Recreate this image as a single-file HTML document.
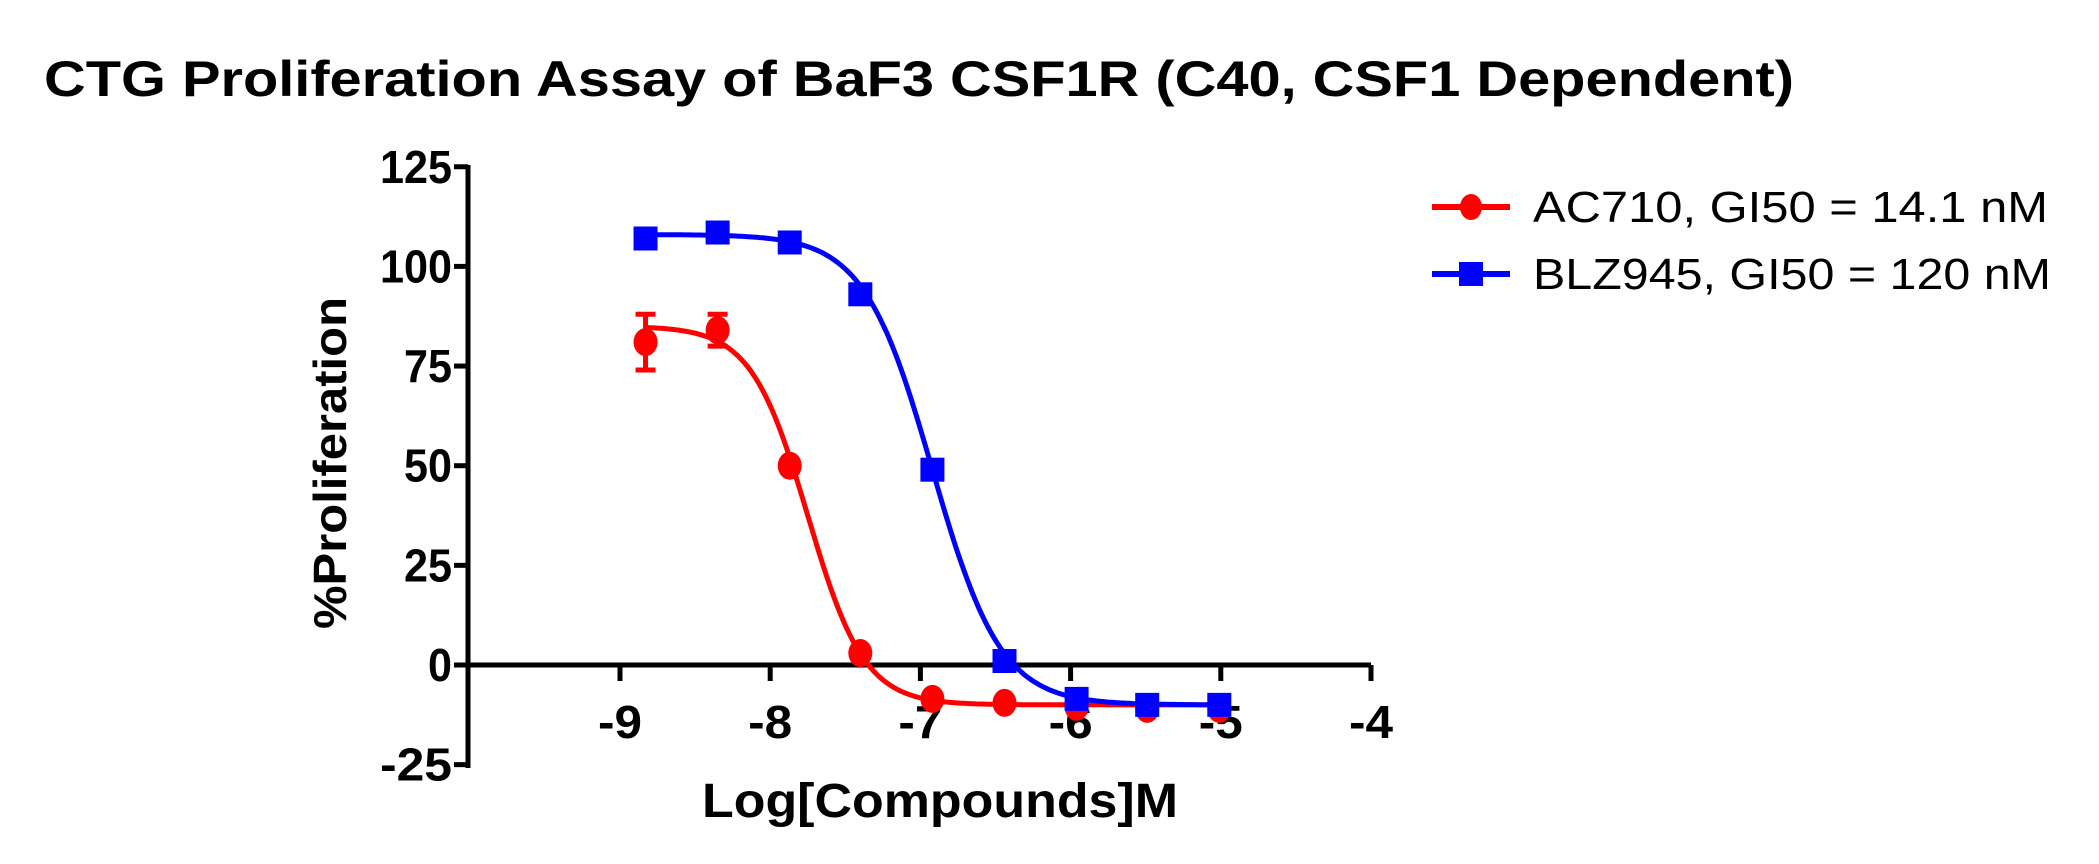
<!DOCTYPE html>
<html><head><meta charset="utf-8"><style>body{margin:0;background:#fff}svg{display:block}</style></head>
<body>
<svg id="s" width="2099" height="864" xmlns="http://www.w3.org/2000/svg" font-family="Liberation Sans, Arial, sans-serif">
<text x="44" y="96" font-size="50" font-weight="bold" textLength="1750" lengthAdjust="spacingAndGlyphs">CTG Proliferation Assay of BaF3 CSF1R (C40, CSF1 Dependent)</text>
<g stroke="#000" stroke-width="5" fill="none">
<line x1="468" y1="165" x2="468" y2="768"/>
<line x1="466" y1="665" x2="1371" y2="665"/>
</g>
<g id="ticks" stroke="#000" stroke-width="5"></g>
<g id="labels" font-size="46" font-weight="bold"></g>
<text x="940" y="817" font-size="48" font-weight="bold" text-anchor="middle" textLength="476" lengthAdjust="spacingAndGlyphs">Log[Compounds]M</text>
<text transform="translate(346,463) rotate(-90)" font-size="46" font-weight="bold" text-anchor="middle" textLength="332" lengthAdjust="spacingAndGlyphs">%Proliferation</text>
<g id="plot"></g>
<line x1="1432" y1="207" x2="1510" y2="207" stroke="#f00" stroke-width="6"/>
<ellipse cx="1471" cy="207" rx="11" ry="13" fill="#f00"/>
<line x1="1432" y1="274" x2="1510" y2="274" stroke="#00f" stroke-width="6"/>
<rect x="1459" y="262" width="24" height="24" fill="#00f"/>
<text x="1533" y="222" font-size="44" textLength="515" lengthAdjust="spacingAndGlyphs">AC710, GI50 = 14.1 nM</text>
<text x="1533" y="289" font-size="44" textLength="518" lengthAdjust="spacingAndGlyphs">BLZ945, GI50 = 120 nM</text>
</svg>
<script>
const NS="http://www.w3.org/2000/svg";
const X=v=>620+(v+9)*150.2, Y=v=>665-v*3.986;
function el(p,t,a,txt){const e=document.createElementNS(NS,t);for(const k in a)e.setAttribute(k,a[k]);if(txt!=null)e.textContent=txt;document.getElementById(p).appendChild(e);return e;}
for(let v=-25;v<=125;v+=25){el('ticks','line',{x1:454,y1:Y(v),x2:468,y2:Y(v)});
 el('labels','text',{x:452,y:Y(v)+16,'text-anchor':'end',textLength:String(v).length*24,lengthAdjust:'spacingAndGlyphs'},v);}
for(let v=-9;v<=-4;v++){el('ticks','line',{x1:X(v),y1:665,x2:X(v),y2:681});
 el('labels','text',{x:X(v),y:738,'text-anchor':'middle',textLength:44,lengthAdjust:'spacingAndGlyphs'},v);}
const xs=[-8.83,-8.35,-7.87,-7.4,-6.92,-6.44,-5.96,-5.49,-5.01];
function curve(top,bot,c,h,col){let d='';for(let x=-8.83;x<=-5.0;x+=0.02){const y=bot+(top-bot)/(1+Math.pow(10,h*(x-c)));d+=(d?'L':'M')+X(x).toFixed(1)+','+Y(y).toFixed(1);}el('plot','path',{d,stroke:col,'stroke-width':5,fill:'none'});}
curve(85,-10,-7.75,2.3,'#f00');
curve(108,-10,-6.92,1.9,'#00f');
const red=[81,84,50,3,-8.5,-9.5,-10.5,-11,-11];
el('plot','path',{d:`M${X(xs[0])},${Y(74)}V${Y(88)}M${X(xs[0])-10},${Y(74)}h20M${X(xs[0])-10},${Y(88)}h20M${X(xs[1])},${Y(80)}V${Y(88)}M${X(xs[1])-10},${Y(80)}h20M${X(xs[1])-10},${Y(88)}h20`,stroke:'#f00','stroke-width':5,fill:'none'});
red.forEach((v,i)=>el('plot','ellipse',{cx:X(xs[i]),cy:Y(v),rx:12,ry:14,fill:'#f00'}));
const blue=[107,108.5,106,93,49,1,-8.5,-10,-10];
blue.forEach((v,i)=>el('plot','rect',{x:X(xs[i])-12,y:Y(v)-12,width:24,height:24,fill:'#00f'}));
</script>
</body></html>
